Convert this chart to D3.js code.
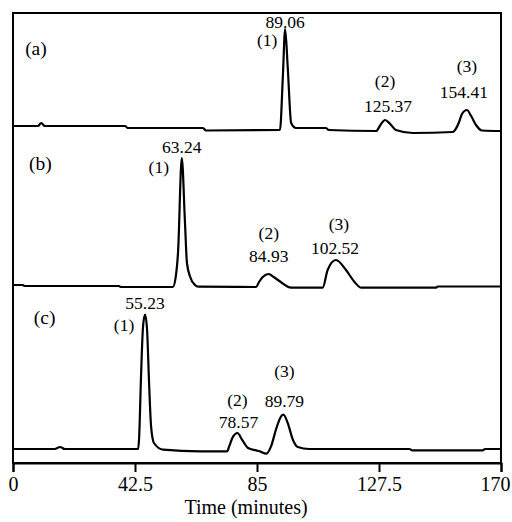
<!DOCTYPE html>
<html>
<head>
<meta charset="utf-8">
<script src="https://cdn.jsdelivr.net/npm/d3@7"></script>
<style>
  body { margin: 0; background: #fff; }
  svg { display: block; }
  svg text { font-family: "Liberation Serif", "DejaVu Serif", "Times New Roman", serif; }
</style>
</head>
<body>
<svg id="chrom" width="512" height="522"></svg>
<script>
// time axis
const tickValues = [0, 42.5, 85, 127.5, 170];
const tickLabels = ['0', '42.5', '85', '127.5', '170'];

// stack offset of each trace (signal units)
const traceNames = ['(a)', '(b)', '(c)'];
const traceOffsets = [337, 177, 14];

// [time (min), signal above the trace's own baseline]
const traceA = [
  [0, 0], [8.7, 0], [9.8, 3], [11.1, 0], [39, 0], [40, -2], [66.2, -2], [67.2, -4.5],
  [93.0, -4], [94.0, 49], [94.8, 97], [95.7, 59], [96.9, 3], [98.6, -2], [109, -2], [110, -4],
  [126.5, -5], [128, 1], [129.6, 6], [131.4, 2], [133.4, -4], [139.3, -7], [153.2, -6],
  [153.7, -5], [155.4, 4], [156.4, 12], [158.1, 16], [159.6, 10], [161.3, 1], [163.4, -4.5],
  [170, -5]
];
const traceB = [
  [0, 1], [3.5, 1], [4, 0], [37, 0], [37.5, -1], [55.7, -1], [56.7, 9.3], [57.5, 34],
  [58.8, 128], [59.9, 64], [60.6, 23], [61.7, 9.3], [63.4, 1], [64.5, -0.7], [84.7, -1],
  [85.7, 4], [87, 9], [89.1, 12], [90.8, 9], [92.8, 5], [96.9, -1.7], [107.9, -1.7],
  [109.6, 16], [112.5, 26], [116, 16], [118.9, 4.3], [121.3, -1.7], [147.4, -1.7],
  [148, -0.5], [170, -0.5]
];
const traceC = [
  [0, 0], [14.5, 0], [16.4, 2], [18, 0], [43.6, 0], [43.9, 9.3], [44.6, 72.6], [45.3, 122.6],
  [46, 134.3], [46.7, 119.3], [47.4, 66.3], [48.1, 22.6], [49.1, 6], [52.3, -0.7], [65.2, -2.4],
  [74.6, -2.4], [75.3, 2.6], [76.7, 12.6], [78.2, 16], [79.8, 9.3], [81.9, 1], [84.7, -1.4],
  [86, -2.4], [88.2, -4.7], [89.9, 2.6], [91.6, 19.3], [93.4, 32.6], [94.2, 34.3], [95.7, 26],
  [97.5, 9.3], [99.2, 2], [103.2, 0], [138.1, 0], [139, -1.4], [163.6, -1.4], [164.5, 0],
  [170, 0]
];

// peak apex times as drawn, and the printed retention times
const apexA = [94.8, 129.6, 158.1];
const apexB = [58.8, 89.1, 112.5];
const apexC = [46, 78.2, 94.2];
const rtA = ['89.06', '125.37', '154.41'];
const rtB = ['63.24', '84.93', '102.52'];
const rtC = ['55.23', '78.57', '89.79'];
const peakNames = ['(1)', '(2)', '(3)'];

const traces = [traceA, traceB, traceC];
const apexes = [apexA, apexB, apexC];
const rts = [rtA, rtB, rtC];

const svg = d3.select('#chrom');
const margin = { top: 13, right: 11, bottom: 59, left: 13 };
const width = 512, height = 522;
const serif = '"Liberation Serif", "DejaVu Serif", "Times New Roman", serif';

const x = d3.scaleLinear()
  .domain([0, 170])
  .range([margin.left, width - margin.right]);
const y = d3.scaleLinear()
  .domain([0, 450])
  .range([height - margin.bottom, margin.top]);

// frame
svg.append('rect')
  .attr('x', x(0))
  .attr('y', y(450))
  .attr('width', x(170) - x(0))
  .attr('height', y(0) - y(450))
  .attr('fill', 'none')
  .attr('stroke', '#000')
  .attr('stroke-width', 2);

// x axis
const xAxis = d3.axisBottom(x)
  .tickValues(tickValues)
  .tickFormat((d, i) => tickLabels[i])
  .tickSizeInner(9)
  .tickSizeOuter(9)
  .tickPadding(5);
const ax = svg.append('g')
  .attr('transform', `translate(0, ${y(0)})`)
  .call(xAxis)
  .attr('font-family', serif);
ax.select('.domain').attr('stroke-width', 2);
ax.selectAll('.tick line').attr('stroke-width', 2);
ax.selectAll('.tick text')
  .attr('font-size', 20)
  .attr('fill', '#000')
  .attr('dx', d => d === 170 ? -6 : 0);

svg.append('text')
  .attr('x', 246)
  .attr('y', 514)
  .attr('text-anchor', 'middle')
  .attr('font-size', 20)
  .text('Time (minutes)');

// traces
const line = d3.line()
  .x(d => x(d[0]))
  .y(d => y(d[1]))
  .curve(d3.curveMonotoneX);

traces.forEach((tr, i) => {
  svg.append('path')
    .datum(tr.map(d => [d[0], d[1] + traceOffsets[i]]))
    .attr('d', line)
    .attr('fill', 'none')
    .attr('stroke', '#000')
    .attr('stroke-width', 2.2)
    .attr('stroke-linejoin', 'round');
});

// panel letters
const letterPos = [[8, 408], [9.5, 293], [11, 139]];
traceNames.forEach((n, i) => {
  svg.append('text')
    .attr('x', x(letterPos[i][0]))
    .attr('y', y(letterPos[i][1]))
    .attr('text-anchor', 'middle')
    .attr('font-size', 19.5)
    .text(n);
});

// label offsets from each apex: [dx name, dy name, dx rt, dy rt]
const labelShift = [
  [[-18, 17, 0, -1], [0, -33, 3, -8], [0, -38, -3, -12]],
  [[-23, 15, 0, -5], [0, -35, 0, -12.5], [3, -30, -1, -6]],
  [[-21, 16, 0, -6], [0, -27, 1, -5], [1, -38, 1, -8]]
];

apexes.forEach((ap, i) => {
  ap.forEach((t, j) => {
    const near = traces[i].find(d => d[0] === t);
    const px = x(t);
    const py = y(near[1] + traceOffsets[i]);
    const s = labelShift[i][j];
    svg.append('text')
      .attr('x', px + s[0])
      .attr('y', py + s[1])
      .attr('text-anchor', 'middle')
      .attr('font-size', 17.5)
      .text(peakNames[j]);
    svg.append('text')
      .attr('x', px + s[2])
      .attr('y', py + s[3])
      .attr('text-anchor', 'middle')
      .attr('font-size', 17.5)
      .text(rts[i][j]);
  });
});
</script>
</body>
</html>
